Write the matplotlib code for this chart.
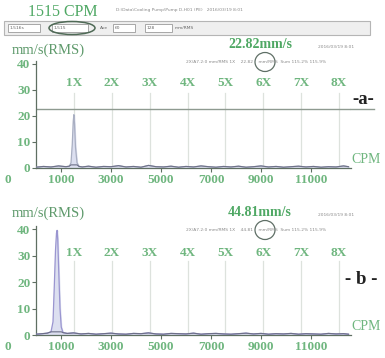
import matplotlib.pyplot as plt
from matplotlib.patches import Rectangle, Ellipse

# spectrum a (1515 CPM run)
cpm_a = [0, 300, 600, 900, 1200, 1330, 1400, 1450, 1490, 1515, 1540, 1580, 1640, 1720, 1850,
         2100, 2400, 2700, 3000, 3300, 3600, 3900, 4200, 4500, 4800, 5100, 5400, 5700, 6000,
         6300, 6600, 6900, 7200, 7500, 7800, 8100, 8400, 8700, 9000, 9300, 9600, 9900, 10200,
         10500, 10800, 11100, 11400, 11700, 12000, 12300, 12500]
amp_a = [0.3, 0.6, 0.4, 0.8, 0.5, 0.7, 2.0, 9.0, 18.0, 20.5, 17.0, 8.0, 2.0, 0.6, 0.4,
         0.7, 0.3, 0.6, 0.5, 0.9, 0.4, 0.6, 0.3, 1.0, 0.5, 0.4, 0.7, 0.3, 0.6,
         0.4, 0.8, 0.5, 0.3, 0.6, 0.4, 0.7, 0.3, 0.5, 0.8, 0.4, 0.6, 0.3, 0.5,
         0.7, 0.4, 0.6, 0.3, 0.5, 0.4, 0.8, 0.5]
level_a = 22.82

# spectrum b (same machine, peak near 840 CPM)
cpm_b = [0, 250, 450, 600, 680, 730, 780, 820, 845, 870, 910, 960, 1010, 1080, 1250, 1500,
         1800, 2100, 2400, 2700, 3000, 3300, 3600, 3900, 4200, 4500, 4800, 5100, 5400, 5700,
         6000, 6300, 6600, 6900, 7200, 7500, 7800, 8100, 8400, 8700, 9000, 9300, 9600, 9900,
         10200, 10500, 10800, 11100, 11400, 11700, 12000, 12300, 12500]
amp_b = [0.3, 0.5, 0.7, 1.2, 5.0, 18.0, 32.0, 38.5, 39.5, 36.0, 24.0, 10.0, 3.0, 0.9, 0.6, 0.8,
         0.4, 0.6, 0.3, 0.5, 0.7, 0.4, 0.3, 0.6, 0.5, 0.8, 0.4, 0.3, 0.6, 0.5,
         0.4, 0.7, 0.3, 0.5, 0.6, 0.4, 0.3, 0.5, 0.7, 0.4, 0.6, 0.3, 0.5, 0.4,
         0.6, 0.3, 0.5, 0.4, 0.3, 0.6, 0.4, 0.5, 0.3]

run_speed = 1515
orders = [1, 2, 3, 4, 5, 6, 7, 8]
order_labels = ["1X", "2X", "3X", "4X", "5X", "6X", "7X", "8X"]
xticks = [1000, 3000, 5000, 7000, 9000, 11000]
yticks = [0, 10, 20, 30, 40]

green = "#4fa864"
pale = "#6fb67f"
serif = "Liberation Serif"

W, H = 385, 358
fig = plt.figure(figsize=(W / 100, H / 100), dpi=100)
fig.patch.set_facecolor("white")


def fx(px):
    return px / W


def fy(py):
    return 1 - py / H


def draw_panel(ax, cpm, amp, label_y, line_top, peak_color):
    ax.set_xlim(0, 12600)
    ax.set_ylim(0, 41)
    for s in ["top", "right"]:
        ax.spines[s].set_visible(False)
    for s in ["left", "bottom"]:
        ax.spines[s].set_color("#5f6f62")
        ax.spines[s].set_linewidth(0.9)
    ax.set_facecolor("none")
    # harmonic lines
    for k, lab in zip(orders, order_labels):
        ax.plot([k * run_speed, k * run_speed], [0, line_top], color="#dde2dd", lw=0.9, zorder=1)
        ax.text(k * run_speed, label_y, lab, ha="center", va="center", color=pale,
                fontsize=9.5, family=serif, weight="bold")
    ax.fill_between(cpm, amp, color="#dcdff0", zorder=2)
    # light outline on the peak, darker trace along the noise floor
    ax.plot(cpm, amp, color=peak_color, lw=0.9, zorder=3)
    ax.plot(cpm, [min(a, 1.2) for a in amp], color="#6d7088", lw=0.8, zorder=4)
    ax.set_xticks(xticks)
    ax.set_xticklabels([str(t) for t in xticks], color=pale, fontsize=9.5, family=serif,
                       weight="bold")
    ax.set_yticks(yticks)
    ax.set_yticklabels([str(t) for t in yticks], color=pale, fontsize=9.5, family=serif,
                       weight="bold")
    ax.tick_params(length=3, width=0.8, color="#5f6f62", pad=1)
    ax.text(-0.09, -0.11, "0", transform=ax.transAxes, color=pale, fontsize=9.5,
            family=serif, weight="bold", ha="center", va="center")
    ax.text(1.0, 0.08, "CPM", transform=ax.transAxes, color=pale, fontsize=10,
            family=serif, ha="left", va="center")


# panel a
ax_a = fig.add_axes([fx(36), fy(168), fx(315), 106.6 / H])
draw_panel(ax_a, cpm_a, amp_a, 32.5, 29, "#a9afc2")
ax_a.axhline(level_a, color="#8e9a90", lw=1.0, zorder=1)
ax_a.plot([12600, 13500], [level_a, level_a], color="#8e9a90", lw=1.0, clip_on=False)

# panel b
ax_b = fig.add_axes([fx(36), fy(335), fx(315), 108.6 / H])
draw_panel(ax_b, cpm_b, amp_b, 31, 28, "#9a95d0")

# headers
fig.text(fx(28), fy(12), "1515 CPM", color=green, fontsize=11.5, family=serif, va="center")
fig.text(fx(116), fy(10), "D:\\Data\\Cooling Pump\\Pump D-H01 (PE)   2016/03/19 8:01",
         color="#8a8a8a", fontsize=3.2, va="center")

# toolbar strip
fig.add_artist(Rectangle((fx(4), fy(35)), fx(366), 14 / H, transform=fig.transFigure,
                         facecolor="#efefef", edgecolor="#b5b5b5", lw=0.8))
for x0, x1, txt in [(8, 40, "1.516s"), (52, 88, "1,515"), (113, 135, "60"), (145, 172, "128")]:
    fig.add_artist(Rectangle((fx(x0), fy(32)), fx(x1 - x0), 8 / H, transform=fig.transFigure,
                             facecolor="white", edgecolor="#9a9a9a", lw=0.6))
    fig.text(fx(x0 + 2), fy(28), txt, fontsize=3.2, color="#666666", va="center")
fig.text(fx(100), fy(28), "Ave", fontsize=3.2, color="#666666", va="center")
fig.text(fx(175), fy(28), "mm/RMS", fontsize=3.2, color="#666666", va="center")
fig.add_artist(Ellipse((fx(72), fy(28)), fx(46), 13 / H, transform=fig.transFigure,
                       facecolor="none", edgecolor="#4f6a56", lw=1.1))

for top, val in [(45, "22.82mm/s"), (213, "44.81mm/s")]:
    fig.text(fx(228), fy(top), val, color=green, fontsize=10, family=serif, weight="bold",
             va="center")
    fig.text(fx(318), fy(top + 2), "2016/03/19 8:01", color="#8a8a8a", fontsize=3.2, va="center")
    fig.text(fx(186), fy(top + 17),
             "2X/A7.2:0 mm/RMS 1X    " + val[:5] + "    mm/RMS  Sum 115.2% 115.9%",
             color="#8a8a8a", fontsize=3.2, va="center")
    fig.add_artist(Ellipse((fx(265), fy(top + 17)), fx(20), 19 / H, transform=fig.transFigure,
                           facecolor="none", edgecolor="#5f6f66", lw=0.9))

fig.text(fx(352), fy(100), "-a-", color="#222222", fontsize=13.5, family=serif,
         weight="bold", va="center")
fig.text(fx(345), fy(280), "- b -", color="#222222", fontsize=13.5, family=serif,
         weight="bold", va="center")

fig.text(fx(12), fy(50), "mm/s(RMS)", color="#5f9a6c", fontsize=10.5, family=serif, va="center")
fig.text(fx(12), fy(213), "mm/s(RMS)", color="#5f9a6c", fontsize=10.5, family=serif, va="center")

fig.savefig("out.png", dpi=100)
